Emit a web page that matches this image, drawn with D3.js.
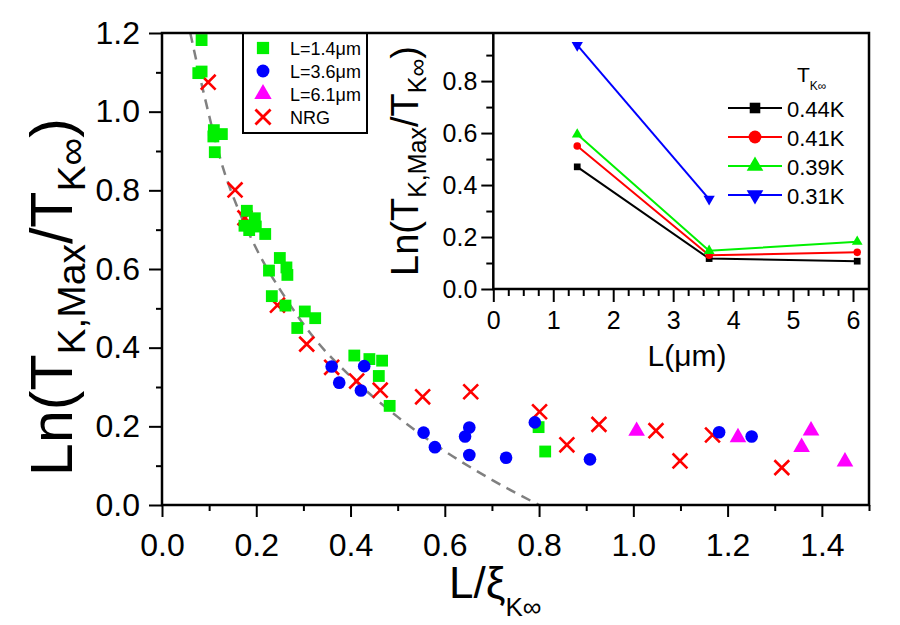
<!DOCTYPE html>
<html lang="en">
<head>
<meta charset="UTF-8">
<title>Ln(TK,Max/TK) vs L/xi</title>
<script src="https://d3js.org/d3.v7.min.js"></script>
<style>
  body { margin: 0; background: #fff; }
  text { font-family: "Liberation Sans", Arial, Helvetica, sans-serif; fill: #000; }
</style>
</head>
<body>
<svg width="900" height="625"></svg>
<script>
// main panel, [L/xi, Ln(TK,max/TK)]
const sq14 = [[0.084,1.182],[0.077,1.098],[0.084,1.102],[0.110,0.953],[0.127,0.943],[0.109,0.937],
  [0.112,0.897],[0.18,0.748],[0.197,0.729],[0.175,0.71],[0.185,0.699],[0.199,0.708],[0.219,0.689],
  [0.25,0.628],[0.227,0.596],[0.264,0.604],[0.266,0.585],[0.233,0.531],[0.262,0.507],[0.303,0.492],
  [0.325,0.475],[0.287,0.45],[0.408,0.38],[0.44,0.371],[0.467,0.367],[0.46,0.328],[0.483,0.252],
  [0.799,0.198],[0.813,0.136]]
const ci36 = [[0.36,0.352],[0.376,0.311],[0.429,0.353],[0.422,0.291],[0.555,0.184],[0.579,0.147],
  [0.643,0.174],[0.652,0.197],[0.652,0.127],[0.73,0.12],[0.791,0.21],[0.908,0.116],[1.182,0.185],[1.251,0.174]]
const tr61 = [[1.007,0.188],[1.222,0.172],[1.357,0.147],[1.377,0.189],[1.449,0.11]]
const nrg = [[0.098,1.075],[0.155,0.801],[0.176,0.73],[0.245,0.508],[0.307,0.409],[0.36,0.35],
  [0.413,0.315],[0.463,0.292],[0.553,0.275],[0.655,0.288],[0.801,0.237],[0.859,0.153],[0.927,0.205],
  [1.048,0.189],[1.099,0.112],[1.168,0.178],[1.315,0.095]]
// dashed guide
const guide = [[0.06,1.2],[0.09,1.04],[0.13,0.855],[0.16,0.757],[0.2,0.652],[0.26,0.53],[0.33,0.414],
  [0.4,0.327],[0.5,0.224],[0.6,0.137],[0.7,0.064],[0.8,0]]

// inset
const insetL = [1.4, 3.6, 6.07]
const t044 = [0.47, 0.117, 0.107]
const t041 = [0.55, 0.13, 0.141]
const t039 = [0.595, 0.147, 0.182]
const t031 = [0.938, 0.346]
const insetNames = ["0.44K","0.41K","0.39K","0.31K"]

const svg = d3.select("svg")
const x = d3.scaleLinear().domain([0,1.5]).range([162,869])
const y = d3.scaleLinear().domain([0,1.2]).range([505,33])

function styleAxis(g, fs){
  g.select(".domain").remove()
  g.selectAll("line").attr("stroke","#000").attr("stroke-width",2)
  g.selectAll("text").attr("font-size",fs).attr("font-family",null)
}

// main axes
svg.append("g").attr("transform","translate(0,505)")
  .call(d3.axisBottom(x).tickValues([0,0.2,0.4,0.6,0.8,1.0,1.2,1.4]).tickSize(12).tickPadding(16).tickFormat(d3.format(".1f")))
  .call(g=>styleAxis(g,32))
svg.append("g").attr("transform","translate(0,505)")
  .call(d3.axisBottom(x).tickValues([0.1,0.3,0.5,0.7,0.9,1.1,1.3,1.5]).tickSize(6).tickFormat(""))
  .call(g=>styleAxis(g,32))
svg.append("g").attr("transform","translate(162,0)")
  .call(d3.axisLeft(y).tickValues([0,0.2,0.4,0.6,0.8,1.0,1.2]).tickSize(13).tickPadding(9).tickFormat(d3.format(".1f")))
  .call(g=>styleAxis(g,32))
svg.append("g").attr("transform","translate(162,0)")
  .call(d3.axisLeft(y).tickValues([0.1,0.3,0.5,0.7,0.9,1.1]).tickSize(6).tickFormat(""))
  .call(g=>styleAxis(g,32))

// guide
svg.append("path").datum(guide)
  .attr("d", d3.line().x(d=>x(d[0])).y(d=>y(d[1])).curve(d3.curveMonotoneX))
  .attr("fill","none").attr("stroke","#808080").attr("stroke-width",2.5).attr("stroke-dasharray","10,7")

const sym = (type,size)=>d3.symbol().type(type).size(size)

svg.append("g").selectAll("path").data(nrg).join("path")
  .attr("transform",d=>`translate(${x(d[0])},${y(d[1])})`)
  .attr("d", sym(d3.symbolTimes,145)).attr("fill","none").attr("stroke","#ff0000").attr("stroke-width",2.6)
svg.append("g").selectAll("path").data(sq14).join("path")
  .attr("transform",d=>`translate(${x(d[0])},${y(d[1])})`)
  .attr("d", sym(d3.symbolSquare,140)).attr("fill","#00f000")
svg.append("g").selectAll("path").data(ci36).join("path")
  .attr("transform",d=>`translate(${x(d[0])},${y(d[1])})`)
  .attr("d", sym(d3.symbolCircle,125)).attr("fill","#0000ff")
svg.append("g").selectAll("path").data(tr61).join("path")
  .attr("transform",d=>`translate(${x(d[0])},${y(d[1])})`)
  .attr("d", sym(d3.symbolTriangle,120)).attr("fill","#ff00ff")

// main legend
const leg = svg.append("g")
leg.append("rect").attr("x",243).attr("y",33).attr("width",124).attr("height",100)
  .attr("fill","#fff").attr("stroke","#000").attr("stroke-width",2)
const legItems = [
  {t:"L=1.4\u03bcm", s:d3.symbolSquare, z:150, fill:"#00f000"},
  {t:"L=3.6\u03bcm", s:d3.symbolCircle, z:130, fill:"#0000ff"},
  {t:"L=6.1\u03bcm", s:d3.symbolTriangle, z:130, fill:"#ff00ff"},
  {t:"NRG", s:d3.symbolTimes, z:150, stroke:"#ff0000"}]
legItems.forEach((d,i)=>{
  const cy = 48 + i*23
  leg.append("path").attr("transform",`translate(263,${cy})`).attr("d",sym(d.s,d.z))
    .attr("fill",d.fill||"none").attr("stroke",d.stroke||"none").attr("stroke-width",2.8)
  leg.append("text").attr("x",290).attr("y",cy+6.5).attr("font-size",18).text(d.t)
})

// inset
const xi = d3.scaleLinear().domain([0,6.25]).range([493.3,868])
const yi = d3.scaleLinear().domain([0,0.985]).range([289,33])
svg.append("rect").attr("x",493).attr("y",33).attr("width",376).attr("height",256).attr("fill","#fff")

svg.append("g").attr("transform","translate(0,289)")
  .call(d3.axisBottom(xi).tickValues([0,1,2,3,4,5,6]).tickSize(13).tickPadding(9).tickFormat(d3.format("d")))
  .call(g=>styleAxis(g,25))
svg.append("g").attr("transform","translate(0,289)")
  .call(d3.axisBottom(xi).tickValues(d3.range(0.25,6.25,0.25).filter(v=>v%1!==0)).tickSize(7).tickFormat(""))
  .call(g=>styleAxis(g,25))
svg.append("g").attr("transform","translate(493.3,0)")
  .call(d3.axisLeft(yi).tickValues([0,0.2,0.4,0.6,0.8]).tickSize(12).tickPadding(4).tickFormat(d3.format(".1f")))
  .call(g=>styleAxis(g,25))
svg.append("g").attr("transform","translate(493.3,0)")
  .call(d3.axisLeft(yi).tickValues([0.1,0.3,0.5,0.7,0.9]).tickSize(7).tickFormat(""))
  .call(g=>styleAxis(g,25))

const inSeries = [
  {v:t044, c:"#000000", s:d3.symbolSquare, z:45, lz:70},
  {v:t041, c:"#ff0000", s:d3.symbolCircle, z:45, lz:80},
  {v:t039, c:"#00f000", s:d3.symbolTriangle, z:50, lz:75},
  {v:t031, c:"#0000ff", s:d3.symbolTriangle, z:55, lz:75, flip:true}]
const inLine = d3.line().x((d,i)=>xi(insetL[i])).y(d=>yi(d))
inSeries.forEach(sr=>{
  svg.append("path").datum(sr.v).attr("d",inLine).attr("fill","none").attr("stroke",sr.c).attr("stroke-width",2)
  svg.append("g").selectAll("path").data(sr.v).join("path")
    .attr("transform",(d,i)=>`translate(${xi(insetL[i])},${yi(d)})${sr.flip?" rotate(180)":""}`)
    .attr("d",sym(sr.s,sr.z)).attr("fill",sr.c)
})

// inset legend
const il = svg.append("g")
const tt = il.append("text").attr("x",797).attr("y",82).attr("font-size",21)
tt.append("tspan").text("T")
tt.append("tspan").attr("font-size",12).attr("dy",8).text("K\u221e")
inSeries.forEach((sr,i)=>{
  const cy = 108 + i*29
  il.append("line").attr("x1",728).attr("x2",782).attr("y1",cy).attr("y2",cy).attr("stroke",sr.c).attr("stroke-width",2)
  il.append("path").attr("transform",`translate(755,${cy})${sr.flip?" rotate(180)":""}`)
    .attr("d",sym(sr.s,sr.lz*1.6)).attr("fill",sr.c)
  il.append("text").attr("x",787).attr("y",cy+8.5).attr("font-size",22).text(insetNames[i])
})

// frames
svg.append("rect").attr("x",162).attr("y",33).attr("width",707).attr("height",472)
  .attr("fill","none").attr("stroke","#000").attr("stroke-width",2.5)
svg.append("path").attr("d",d3.line()([[493.3,33],[493.3,289],[868,289]]))
  .attr("fill","none").attr("stroke","#000").attr("stroke-width",2.5)

// axis titles
function lnTitle(g, fs, sub){
  const t = g.append("text").attr("text-anchor","middle").attr("font-size",fs)
  t.append("tspan").text("Ln(T")
  t.append("tspan").attr("font-size",sub).attr("dy",fs*0.22).text("K,Max")
  t.append("tspan").attr("dy",-fs*0.22).text("/T")
  t.append("tspan").attr("font-size",sub).attr("dy",fs*0.22).text("K\u221e")
  t.append("tspan").attr("dy",-fs*0.22).text(")")
}
lnTitle(svg.append("g").attr("transform","translate(72,297) rotate(-90)"), 59, 39)
lnTitle(svg.append("g").attr("transform","translate(418,161) rotate(-90)"), 38, 25)

const xt = svg.append("text").attr("x",449).attr("y",598).attr("font-size",44)
xt.append("tspan").text("L/\u03be")
xt.append("tspan").attr("font-size",26).attr("dy",18).text("K\u221e")

svg.append("text").attr("x",687).attr("y",366).attr("text-anchor","middle").attr("font-size",30).text("L(\u03bcm)")
</script>
</body>
</html>
